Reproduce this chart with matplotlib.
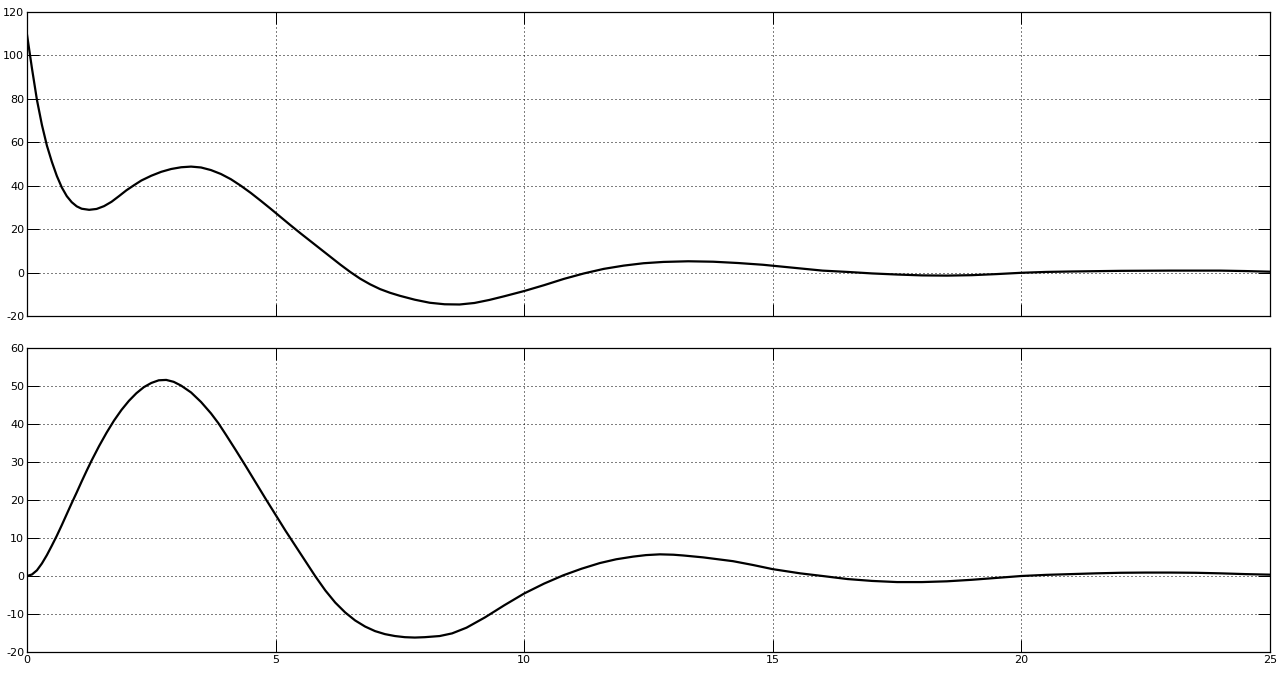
import matplotlib
matplotlib.use("Agg")
import matplotlib.pyplot as plt

# ---- data ----
t_top = [0, 0.1, 0.2, 0.3, 0.4, 0.5, 0.6, 0.7, 0.8, 0.9, 1.0, 1.1, 1.25, 1.4, 1.55,
         1.7, 1.85, 2.0, 2.15, 2.3, 2.5, 2.7, 2.9, 3.1, 3.3, 3.5, 3.7, 3.9, 4.1, 4.3,
         4.5, 4.7, 4.9, 5.1, 5.3, 5.5, 5.7, 5.9, 6.1, 6.3, 6.5, 6.7, 6.9, 7.1, 7.3,
         7.5, 7.8, 8.1, 8.4, 8.7, 9.0, 9.3, 9.6, 10.0, 10.4, 10.8, 11.2, 11.6, 12.0,
         12.4, 12.8, 13.3, 13.8, 14.3, 14.8, 15.2, 15.6, 16.0, 16.5, 17.0, 17.5,
         18.0, 18.5, 19.0, 19.5, 20.0, 20.5, 21.0, 22.0, 23.0, 24.0, 24.5, 25.0]
y_top = [109.6, 94, 79.5, 68, 58.5, 51, 44.5, 39.2, 35.2, 32.4, 30.5, 29.4, 28.9, 29.3, 30.6,
         32.6, 35.2, 37.9, 40.2, 42.4, 44.6, 46.4, 47.7, 48.5, 48.8, 48.4, 47.2, 45.4, 43.0, 40.0,
         36.7, 33.1, 29.4, 25.6, 21.8, 18.1, 14.5, 10.9, 7.3, 3.7, 0.3, -2.8, -5.4, -7.6, -9.3,
         -10.7, -12.5, -13.9, -14.6, -14.7, -14.0, -12.6, -10.9, -8.5, -5.8, -2.9, -0.4, 1.7, 3.2,
         4.3, 4.9, 5.2, 5.0, 4.4, 3.6, 2.7, 1.8, 0.9, 0.3, -0.4, -0.9,
         -1.3, -1.4, -1.2, -0.7, -0.1, 0.3, 0.5, 0.8, 0.9, 0.9, 0.7, 0.4]

t_bot = [0, 0.1, 0.2, 0.3, 0.4, 0.5, 0.6, 0.7, 0.8, 0.9, 1.0, 1.1, 1.2, 1.3, 1.45,
         1.6, 1.75, 1.9, 2.05, 2.2, 2.35, 2.5, 2.65, 2.8, 2.95, 3.1, 3.3, 3.5, 3.7, 3.85,
         4.0, 4.2, 4.4, 4.6, 4.8, 5.0, 5.2, 5.4, 5.6, 5.8, 6.0, 6.2, 6.4, 6.6, 6.8,
         7.0, 7.2, 7.4, 7.6, 7.8, 8.0, 8.3, 8.55, 8.84, 9.21, 9.6, 10.0, 10.4, 10.79,
         11.15, 11.52, 11.85, 12.19, 12.45, 12.73, 13.0, 13.2, 13.6, 14.2, 14.6, 15.0, 15.55,
         16.0, 16.5, 17.0, 17.5, 18.0, 18.5, 19.0, 19.5, 20.0, 20.5, 21.0, 21.5, 22.0,
         22.5, 23.0, 23.5, 24.0, 24.5, 25.0]
y_bot = [0, 0.4, 1.5, 3.3, 5.5, 8.0, 10.6, 13.4, 16.3, 19.2, 22.0, 24.9, 27.7, 30.4, 34.2,
         37.7, 40.9, 43.7, 46.1, 48.1, 49.7, 50.8, 51.5, 51.6, 51.1, 50.1, 48.3, 45.8, 42.8, 40.2,
         37.2, 33.1, 28.9, 24.6, 20.3, 16.1, 11.9, 7.9, 3.9, -0.1, -3.8, -7.0, -9.6, -11.7, -13.3,
         -14.5, -15.3, -15.8, -16.1, -16.2, -16.1, -15.8, -15.1, -13.6, -10.9, -7.7, -4.6, -2.0, 0.2,
         1.9, 3.4, 4.4, 5.1, 5.5, 5.7, 5.6, 5.4, 4.9, 3.9, 2.9, 1.8, 0.7,
         0.0, -0.8, -1.3, -1.6, -1.6, -1.4, -1.0, -0.5, 0.0, 0.3, 0.5, 0.7, 0.85,
         0.9, 0.9, 0.85, 0.7, 0.5, 0.35]

x_ticks = [0, 5, 10, 15, 20, 25]
y_ticks_top = [-20, 0, 20, 40, 60, 80, 100, 120]
y_ticks_bot = [-20, -10, 0, 10, 20, 30, 40, 50, 60]

W, H = 1287, 676
fig = plt.figure(figsize=(W / 100, H / 100), dpi=100)
fig.patch.set_facecolor("white")

left = 27 / W
width = (1270 - 27) / W
ax_h = (316 - 12) / H
ax1 = fig.add_axes([left, 1 - 316 / H, width, ax_h])
ax2 = fig.add_axes([left, 1 - 652 / H, width, (652 - 348) / H])

for ax, t, y, yt in [(ax1, t_top, y_top, y_ticks_top), (ax2, t_bot, y_bot, y_ticks_bot)]:
    ax.plot(t, y, color="black", lw=1.6, solid_joinstyle="round")
    ax.set_xlim(0, 25)
    ax.set_ylim(yt[0], yt[-1])
    ax.set_xticks(x_ticks)
    ax.set_yticks(yt)
    ax.grid(True, color="black", lw=0.72, linestyle=(0, (1, 3)))
    ax.tick_params(direction="in", length=8.8, width=0.72, top=True, right=True,
                   labelsize=8, pad=2, colors="black")
    for s in ax.spines.values():
        s.set_linewidth(0.9)
        s.set_color("black")
    ax.set_yticklabels([str(v) for v in yt])

ax1.tick_params(labelbottom=False)
ax2.set_xticklabels([str(v) for v in x_ticks])

fig.savefig("out.png", dpi=100, facecolor="white")
